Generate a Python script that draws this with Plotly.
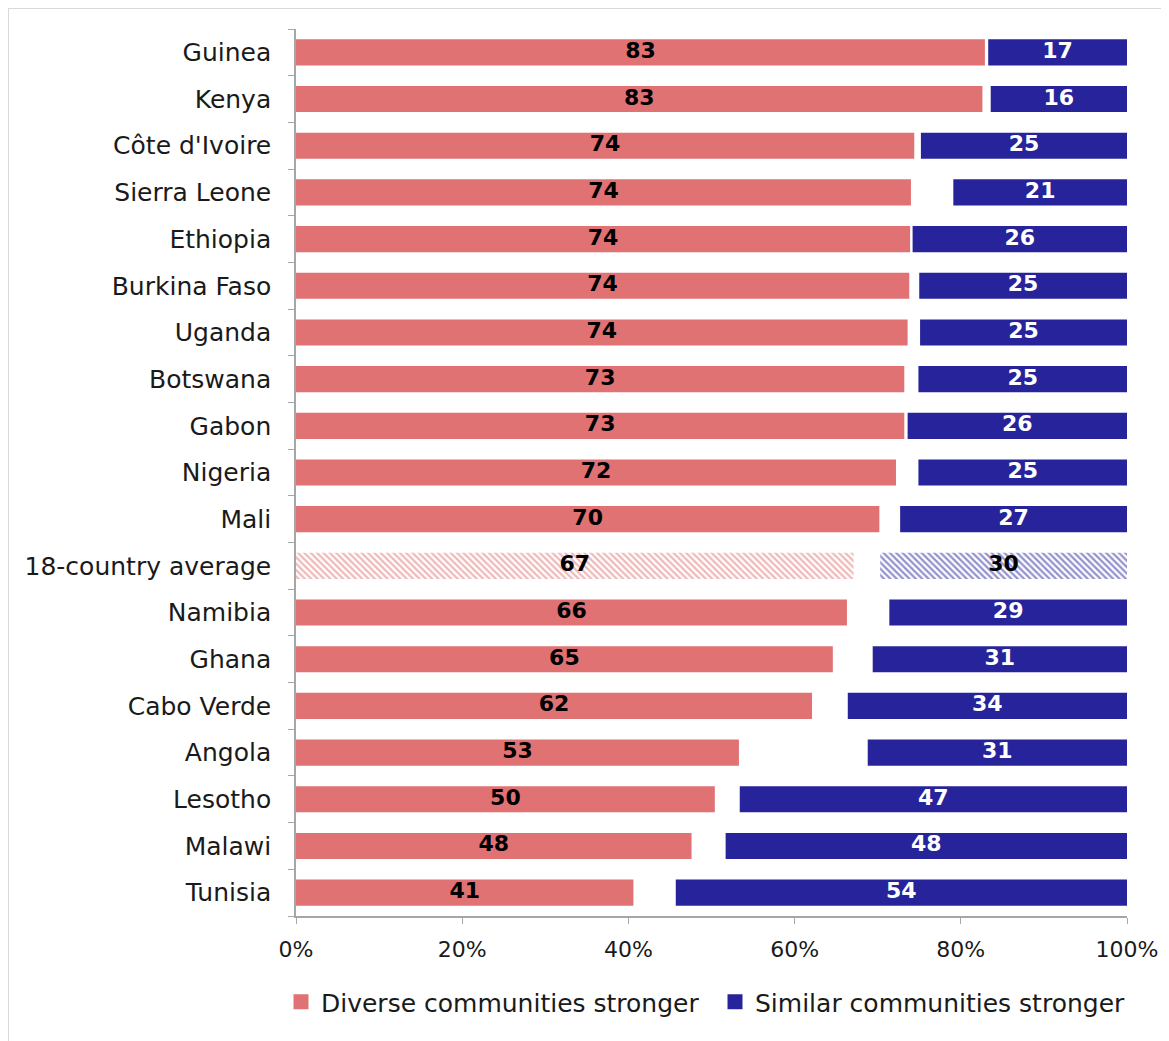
import plotly.graph_objects as go

countries = ["Guinea", "Kenya", "Côte d'Ivoire", "Sierra Leone", "Ethiopia", "Burkina Faso",
             "Uganda", "Botswana", "Gabon", "Nigeria", "Mali", "18-country average", "Namibia",
             "Ghana", "Cabo Verde", "Angola", "Lesotho", "Malawi", "Tunisia"]
diverse = [82.9, 82.6, 74.4, 74.0, 73.9, 73.8, 73.6, 73.2, 73.2, 72.2, 70.2, 67.1, 66.3,
           64.6, 62.1, 53.3, 50.4, 47.6, 40.6]
similar = [16.7, 16.4, 24.8, 20.9, 25.8, 25.0, 24.9, 25.1, 26.4, 25.1, 27.3, 29.7, 28.6,
           30.6, 33.6, 31.2, 46.6, 48.3, 54.3]
series_names = ["Diverse communities stronger", "Similar communities stronger"]
avg_name = "18-country average"

RED = "#E07274"
BLUE = "#27249B"
FONT = "DejaVu Sans"

is_avg = [c == avg_name for c in countries]
sim_base = [100 - s for s in similar]

fig = go.Figure()
fig.add_trace(go.Bar(
    y=countries, x=diverse, base=[0] * len(countries), orientation="h",
    name=series_names[0], width=0.56, showlegend=False,
    marker=dict(color=RED, line=dict(width=0),
                pattern=dict(shape=["\\" if a else "" for a in is_avg],
                             fgcolor=RED, bgcolor="white", size=4.5, solidity=0.5)),
    hoverinfo="skip"))
fig.add_trace(go.Bar(
    y=countries, x=similar, base=sim_base, orientation="h",
    name=series_names[1], width=0.56, showlegend=False,
    marker=dict(color=BLUE, line=dict(width=0),
                pattern=dict(shape=["\\" if a else "" for a in is_avg],
                             fgcolor=BLUE, bgcolor="white", size=4.5, solidity=0.5)),
    hoverinfo="skip"))

# value labels
fig.add_trace(go.Scatter(
    y=countries, x=[d / 2 for d in diverse], mode="text",
    text=[f"{round(d)}" for d in diverse],
    textfont=dict(family=FONT, size=22, color="black", weight="bold"),
    showlegend=False, hoverinfo="skip"))
fig.add_trace(go.Scatter(
    y=countries, x=[100 - s / 2 for s in similar], mode="text",
    text=[f"{round(s)}" for s in similar],
    textfont=dict(family=FONT, size=22, weight="bold",
                  color=["black" if a else "white" for a in is_avg]),
    showlegend=False, hoverinfo="skip"))

# legend entries (square swatches)
for nm, col, lg in [(series_names[0], RED, "legend"), (series_names[1], BLUE, "legend2")]:
    fig.add_trace(go.Scatter(x=[None], y=[None], mode="markers", name=nm, legend=lg,
                             marker=dict(symbol="square", size=15, color=col),
                             showlegend=True, hoverinfo="skip"))

W, H = 1161, 1033
L, T = 288, 21
plot_right, plot_bottom = 1119, 908
R, B = W - plot_right, H - plot_bottom
pw, ph = plot_right - L, plot_bottom - T

leg_y = (plot_bottom - 994) / ph
leg_common = dict(orientation="h", xanchor="left", yanchor="middle", y=leg_y,
                  font=dict(family=FONT, size=25, color="#1a1a1a"), itemwidth=30,
                  bgcolor="rgba(0,0,0,0)")

fig.update_layout(
    width=W, height=H, barmode="overlay",
    margin=dict(l=L, r=R, t=T, b=B),
    paper_bgcolor="white", plot_bgcolor="white",
    font=dict(family=FONT, size=23, color="#1a1a1a"),
    xaxis=dict(range=[0, 100], tickvals=[0, 20, 40, 60, 80, 100],
               ticktext=["0%", "20%", "40%", "60%", "80%", "100%"],
               showgrid=False, zeroline=False, showline=True, linecolor="#A6A6A6",
               linewidth=1.5, ticks="outside", ticklen=6, tickcolor="#A6A6A6",
               ticklabelstandoff=7, tickfont=dict(size=22), fixedrange=True),
    yaxis=dict(categoryorder="array", categoryarray=countries[::-1],
               range=[-0.5, len(countries) - 0.5], autorange=False,
               showgrid=False, zeroline=False, showline=True, linecolor="#A6A6A6",
               linewidth=1.5, ticks="outside", ticklen=6, tickcolor="#A6A6A6",
               tickson="boundaries", ticklabelstandoff=18,
               tickfont=dict(size=25), fixedrange=True),
    legend=dict(x=(273 - L) / pw, **leg_common),
    legend2=dict(x=(707 - L) / pw, **leg_common),
    shapes=[dict(type="rect", xref="paper", yref="paper",
                 x0=(0 - L) / pw, x1=(W + 10 - L) / pw,
                 y0=(plot_bottom - (H + 10)) / ph, y1=(plot_bottom - 0) / ph,
                 line=dict(color="#D9D9D9", width=2), fillcolor="rgba(0,0,0,0)", layer="below")],
)

fig.write_html("out.html")
